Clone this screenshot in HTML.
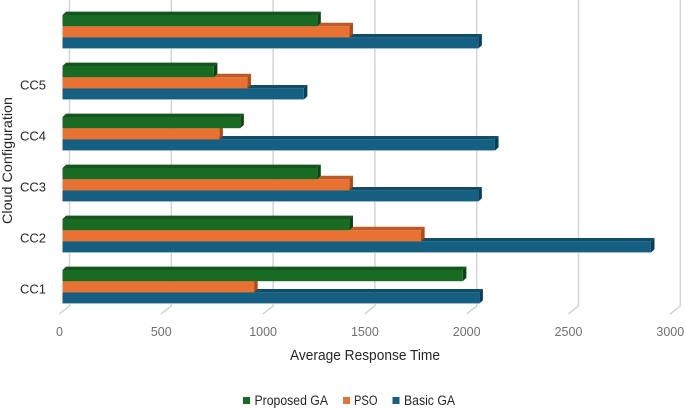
<!DOCTYPE html>
<html lang="en">
<head>
<meta charset="utf-8">
<title>Average Response Time by Cloud Configuration</title>
<style>
html,body{margin:0;padding:0;background:#fff;width:685px;height:408px;overflow:hidden}
svg{display:block}
text{font-family:"Liberation Sans",sans-serif}
</style>
</head>
<body>
<svg id="chart" width="685" height="408" viewBox="0 0 685 408" xmlns="http://www.w3.org/2000/svg">
  <g id="grid"></g>
  <g id="bars"></g>
  <g id="xticks"></g>
  <g id="yticks"></g>
  <text transform="translate(12,224) rotate(-90)" font-size="14" fill="#262626" textLength="127" lengthAdjust="spacingAndGlyphs">Cloud Configuration</text>
  <text x="290" y="360" font-size="14.5" fill="#262626" textLength="150" lengthAdjust="spacingAndGlyphs">Average Response Time</text>
  <g>
    <g>
      <rect x="243" y="397" width="7" height="7" fill="#196b24"/>
      <text x="254.5" y="405" font-size="13.5" fill="#262626" textLength="73.5" lengthAdjust="spacingAndGlyphs">Proposed GA</text>
    </g>
    <g>
      <rect x="343" y="397" width="7" height="7" fill="#e97132"/>
      <text x="354" y="405" font-size="13.5" fill="#262626" textLength="23.5" lengthAdjust="spacingAndGlyphs">PSO</text>
    </g>
    <g>
      <rect x="392.5" y="397" width="7" height="7" fill="#156082"/>
      <text x="404" y="405" font-size="13.5" fill="#262626" textLength="51" lengthAdjust="spacingAndGlyphs">Basic GA</text>
    </g>
  </g>
</svg>
<script>
const categories = ['CC1', 'CC2', 'CC3', 'CC4', 'CC5', ''];
const basicGA = [2047, 2890, 2042, 2124, 1185, 2042];
const pso = [941, 1761, 1409, 770, 908, 1409];
const proposedGA = [1966, 1409, 1251, 873, 743, 1251];
const xTickValues = [0, 500, 1000, 1500, 2000, 2500, 3000];

const NS = 'http://www.w3.org/2000/svg';
const PX_PER_UNIT = 0.2036;
const X_ORIGIN = 62.5;
const GROUP_PITCH = 51;
const FIRST_GROUP_BOTTOM = 303.6;
const BAR_H = 11.2;
const DEPTH_X = 3.6;
const DEPTH_Y = 3.4;

function xScale(v) { return X_ORIGIN + v * PX_PER_UNIT; }
function groupBottom(i) { return FIRST_GROUP_BOTTOM - i * GROUP_PITCH; }
function make(tag, attrs, parent) {
  const el = document.createElementNS(NS, tag);
  for (const k in attrs) el.setAttribute(k, attrs[k]);
  parent.appendChild(el);
  return el;
}

const gridG = document.getElementById('grid');
const xticksG = document.getElementById('xticks');
xTickValues.forEach(function (v) {
  const x = xScale(v);
  const line = make('path', { d: 'M' + (x + 7) + ' 0V306L' + (x - 3.2) + ' 314', fill: 'none', stroke: '#d4d4d4', 'stroke-width': 1.5 }, gridG);
  
  
  const label = make('text', { x: x - 3, y: 336, 'text-anchor': 'middle', 'font-size': 12.5, fill: '#6f6f6f' }, xticksG);
  label.textContent = String(v);
  
  
});

const seriesDraw = [
  { key: 'basic-ga', values: basicGA, slot: 0, front: '#156082', top: '#114d68', side: '#0d3d53' },
  { key: 'pso', values: pso, slot: 1, front: '#e97132', top: '#b95a28', side: '#a34f23' },
  { key: 'proposed-ga', values: proposedGA, slot: 2, front: '#196b24', top: '#14561d', side: '#0f4016' }
];

const barsG = document.getElementById('bars');
seriesDraw.forEach(function (s) {
  s.values.forEach(function (v, i) {
    const bottom = groupBottom(i) - s.slot * BAR_H;
    const top = bottom - BAR_H;
    const x1 = xScale(v);
    const g = make('g', {}, barsG);
    
    
    make('polygon', { points: X_ORIGIN + ',' + top + ' ' + (X_ORIGIN + DEPTH_X) + ',' + (top - DEPTH_Y) + ' ' + (x1 + DEPTH_X) + ',' + (top - DEPTH_Y) + ' ' + x1 + ',' + top, fill: s.top }, g);
    make('polygon', { points: x1 + ',' + top + ' ' + (x1 + DEPTH_X) + ',' + (top - DEPTH_Y) + ' ' + (x1 + DEPTH_X) + ',' + (bottom - DEPTH_Y) + ' ' + x1 + ',' + bottom, fill: s.side }, g);
    make('rect', { x: X_ORIGIN, y: top, width: x1 - X_ORIGIN, height: BAR_H, fill: s.front }, g);
    if (s.slot === 0) {
      make('rect', { x: X_ORIGIN, y: bottom - 0.6, width: x1 - X_ORIGIN, height: 0.8, fill: '#8fb3c4' }, g);
    }
  });
});

const yticksG = document.getElementById('yticks');
categories.forEach(function (c, i) {
  if (!c) return;
  const label = make('text', { x: 46, y: groupBottom(i) - 10, 'text-anchor': 'end', 'font-size': 13, fill: '#262626' }, yticksG);
  label.textContent = c;
  
  
});
</script>
</body>
</html>
